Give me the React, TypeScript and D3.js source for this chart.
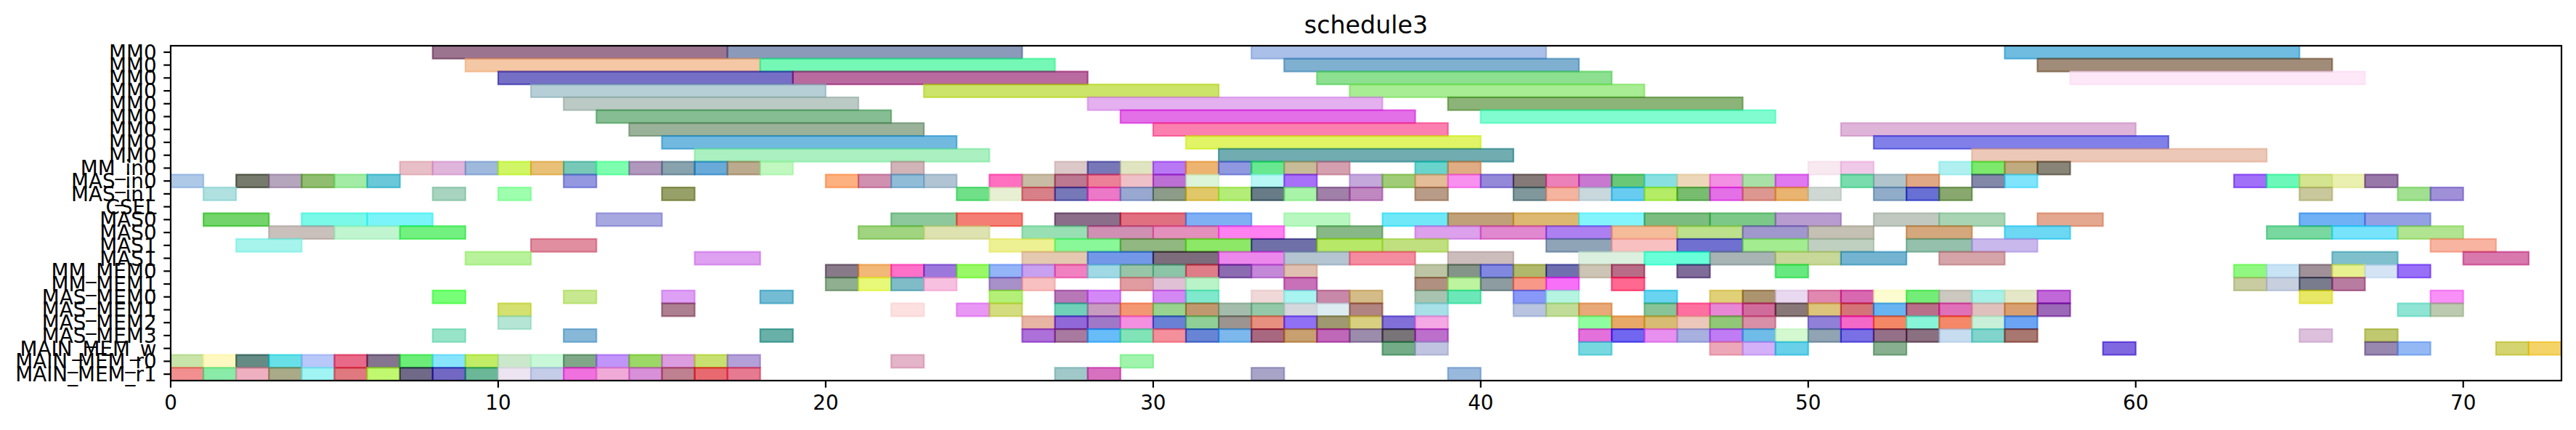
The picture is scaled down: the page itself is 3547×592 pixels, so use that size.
import * as d3 from "d3";

type Task = [number, number, string];

const titleText = "schedule3";
const xTicks = [0, 10, 20, 30, 40, 50, 60, 70];
const xMax = 73;

const rowLabels = [
  "MM0", "MM0", "MM0", "MM0", "MM0", "MM0", "MM0", "MM0", "MM0",
  "MM_in0", "MAS_in0", "MAS_in1", "CSEL", "MAS0", "MAS0", "MAS1", "MAS1",
  "MM_MEM0", "MM_MEM1", "MAS_MEM0", "MAS_MEM1", "MAS_MEM2", "MAS_MEM3",
  "MAIN_MEM_w", "MAIN_MEM_r0", "MAIN_MEM_r1",
];

// nine MM0 lanes, top to bottom
const mm0Tasks: Task[][] = [
  [[8, 17, "#9b7590"], [17, 26, "#8c9aba"], [33, 42, "#aac0e8"], [56, 65, "#70bce0"]],
  [[9, 18, "#f5c8a5"], [18, 27, "#75f8b5"], [34, 43, "#80b0d0"], [57, 66, "#a08c78"]],
  [[10, 19, "#7570c5"], [19, 28, "#b96ba0"], [35, 44, "#8ce090"], [58, 67, "#fde8f8"]],
  [[11, 20, "#b6ced5"], [23, 32, "#cde46a"], [36, 45, "#a8ec94"]],
  [[12, 21, "#bccac6"], [28, 37, "#e4b0f0"], [39, 48, "#8cb478"]],
  [[13, 22, "#86bd92"], [29, 38, "#e470e8"], [40, 49, "#80fcd0"]],
  [[14, 23, "#9ab29a"], [30, 39, "#fb80b0"], [51, 60, "#deb4d8"]],
  [[15, 24, "#72b9e0"], [31, 40, "#e0f466"], [52, 61, "#8080e8"]],
  [[16, 25, "#aaf0c0"], [32, 41, "#70acb0"], [55, 64, "#ecc8b8"]],
];

const mmIn0: Task[] = [
  [7, 8, "#e8bfc6"], [8, 9, "#e0b5dc"], [9, 10, "#9fb9dc"], [10, 11, "#d0f660"], [11, 12, "#e8c078"],
  [12, 13, "#78c8b8"], [13, 14, "#7effb0"], [14, 15, "#b098bc"], [15, 16, "#88a2ae"], [16, 17, "#6aaad8"],
  [17, 18, "#bbaa8e"], [18, 19, "#c0f8c0"], [22, 23, "#d0b4b8"], [27, 28, "#dcc8c8"], [28, 29, "#7878b8"],
  [29, 30, "#e0e4c0"], [30, 31, "#b878f4"], [31, 32, "#ecb470"], [32, 33, "#9098e0"], [33, 34, "#68e890"],
  [34, 35, "#c8bc98"], [35, 36, "#d4a0b0"], [38, 39, "#6ad4cc"], [39, 40, "#e0ac84"], [50, 51, "#f8e8f0"],
  [51, 52, "#f0c8e8"], [54, 55, "#b0f0f0"], [55, 56, "#7ce86c"], [56, 57, "#c0aa80"], [57, 58, "#888478"],
];

const masIn0: Task[] = [
  [0, 1, "#aec8e8"], [2, 3, "#757a6c"], [3, 4, "#b5a5bd"], [4, 5, "#90bd70"], [5, 6, "#a3eca5"],
  [6, 7, "#6ac8d8"], [12, 13, "#9398e0"], [20, 21, "#fdb080"], [21, 22, "#d090b0"], [22, 23, "#90bcd8"],
  [23, 24, "#b0c4d4"], [25, 26, "#ff70c0"], [26, 27, "#c8bca4"], [27, 28, "#bc7890"], [28, 29, "#ec8098"],
  [29, 30, "#f0c0c8"], [30, 31, "#bc70d4"], [31, 32, "#dcf4d8"], [33, 34, "#b8f8f4"], [34, 35, "#a870f8"],
  [36, 37, "#c4a8dc"], [37, 38, "#a0cc78"], [38, 39, "#e4bc98"], [39, 40, "#f890f0"], [40, 41, "#9488d8"],
  [41, 42, "#857a78"], [42, 43, "#ec80b8"], [43, 44, "#c878d0"], [44, 45, "#68c878"], [45, 46, "#88e0e0"],
  [46, 47, "#ecd8b8"], [47, 48, "#f490e4"], [48, 49, "#a8e0a8"], [49, 50, "#e078f0"], [51, 52, "#78dcac"],
  [52, 53, "#b0c4cc"], [53, 54, "#e0a884"], [55, 56, "#8488a8"], [56, 57, "#80e4fc"], [63, 64, "#a070f8"],
  [64, 65, "#6cf8b8"], [65, 66, "#d4e490"], [66, 67, "#eaf0b0"], [67, 68, "#9878a8"],
];

const masIn1: Task[] = [
  [1, 2, "#b0e0e0"], [8, 9, "#a8d3bf"], [10, 11, "#9effae"], [15, 16, "#98a06a"], [24, 25, "#70e088"],
  [25, 26, "#e8f0d4"], [26, 27, "#d88088"], [27, 28, "#7678b8"], [28, 29, "#ec78c8"], [29, 30, "#98a8d0"],
  [30, 31, "#8c9c88"], [31, 32, "#e0c868"], [32, 33, "#b4ec78"], [33, 34, "#687c88"], [34, 35, "#a8f4a8"],
  [35, 36, "#a080a8"], [36, 37, "#c088c0"], [38, 39, "#b89c88"], [41, 42, "#80989c"], [42, 43, "#f4b4a0"],
  [43, 44, "#c8d8dc"], [44, 45, "#68ccf0"], [45, 46, "#b4ec60"], [46, 47, "#78bc70"], [47, 48, "#e470e8"],
  [48, 49, "#dc9890"], [49, 50, "#e8b470"], [50, 51, "#d0d8d4"], [52, 53, "#90acc8"], [53, 54, "#6870d4"],
  [54, 55, "#88a870"], [65, 66, "#c8c89c"], [68, 69, "#a0e090"], [69, 70, "#a090d8"],
];

const csel: Task[] = [];

const mas0a: Task[] = [
  [1, 3, "#72d46a"], [4, 6, "#7af8e8"], [6, 8, "#7af4f8"], [13, 15, "#a8a8e0"], [22, 24, "#8cc89c"],
  [24, 26, "#f47e74"], [27, 29, "#8a6e8a"], [29, 31, "#e07080"], [31, 33, "#80b0f4"], [34, 36, "#b8f8c0"],
  [37, 39, "#70e8f8"], [39, 41, "#c0a078"], [41, 43, "#dcb870"], [43, 45, "#84f4fc"], [45, 47, "#7cbc80"],
  [47, 49, "#7cc888"], [49, 51, "#b89cd0"], [52, 54, "#c0c8c0"], [54, 56, "#a8d4b4"], [57, 59, "#e4a890"],
  [65, 67, "#70b0f4"], [67, 69, "#94a0e4"],
];

const mas0b: Task[] = [
  [3, 5, "#c9c0bc"], [5, 7, "#c0f5d0"], [7, 9, "#72f080"], [21, 23, "#a0d480"], [23, 25, "#dde2b0"],
  [26, 28, "#98e0b4"], [28, 30, "#d090b4"], [30, 32, "#e490bc"], [32, 34, "#ff80f0"], [35, 37, "#88b888"],
  [38, 40, "#dca0ec"], [40, 42, "#e088d0"], [42, 44, "#ac80f0"], [44, 46, "#f4bc98"], [46, 48, "#bce08c"],
  [48, 50, "#a098cc"], [50, 52, "#c4c0b4"], [53, 55, "#d4a87c"], [56, 58, "#6cd8f4"], [64, 66, "#78d8a0"],
  [66, 68, "#78e4fc"], [68, 70, "#b0e490"],
];

const mas1a: Task[] = [
  [2, 4, "#a6f4ec"], [11, 13, "#e08ea0"], [25, 27, "#eef094"], [27, 29, "#88f898"], [29, 31, "#90b880"],
  [31, 33, "#8ce860"], [33, 35, "#7070a8"], [35, 37, "#b8e868"], [37, 39, "#c0e080"], [42, 44, "#90a4b8"],
  [44, 46, "#f8c0c0"], [46, 48, "#7070d0"], [48, 50, "#a4ec90"], [50, 52, "#c0d0c0"], [53, 55, "#94c0ac"],
  [55, 57, "#c8b8ec"], [69, 71, "#f8b4a0"],
];

const mas1b: Task[] = [
  [9, 11, "#b8f29a"], [16, 18, "#dea0f0"], [26, 28, "#e4c8b0"], [28, 30, "#7498e8"], [30, 32, "#7c6c7c"],
  [32, 34, "#ec88ec"], [34, 36, "#b4c4d0"], [36, 38, "#f48ca0"], [39, 41, "#ccbcbc"], [43, 45, "#dcf0e0"],
  [45, 47, "#68ffd8"], [47, 49, "#a8b4b4"], [49, 51, "#c8d898"], [51, 53, "#74b4d0"], [54, 56, "#d4a4a8"],
  [66, 68, "#80c0cc"], [70, 72, "#d878ac"],
];

const mmMem0: Task[] = [
  [20, 21, "#887a88"], [21, 22, "#f2b878"], [22, 23, "#ff70c8"], [23, 24, "#9c78dc"], [24, 25, "#98f860"],
  [25, 26, "#94b4f8"], [26, 27, "#c8a0f0"], [27, 28, "#f080c0"], [28, 29, "#a0d8e4"], [29, 30, "#98c4a8"],
  [30, 31, "#8cc4a8"], [31, 32, "#de7c88"], [32, 33, "#8c6cb0"], [33, 34, "#c488d8"], [34, 35, "#e0c0b0"],
  [38, 39, "#bcc4a4"], [39, 40, "#849488"], [40, 41, "#8088e0"], [41, 42, "#b0b86c"], [42, 43, "#7070b0"],
  [43, 44, "#ccc4b4"], [44, 45, "#b86c88"], [46, 47, "#806c98"], [49, 50, "#68e880"], [63, 64, "#90f880"],
  [64, 65, "#c8e4f4"], [65, 66, "#a09098"], [66, 67, "#e8f090"], [67, 68, "#d4e4f4"], [68, 69, "#9870f8"],
];

const mmMem1: Task[] = [
  [20, 21, "#90ae90"], [21, 22, "#e8f878"], [22, 23, "#80bcc8"], [23, 24, "#f8c0e0"], [25, 26, "#a890c8"],
  [26, 27, "#f8c0c0"], [29, 30, "#e09ca0"], [30, 31, "#e0c0d4"], [31, 32, "#b8f4c8"], [34, 35, "#c870b8"],
  [38, 39, "#b09080"], [39, 40, "#bcf4a0"], [40, 41, "#8c9ca0"], [41, 42, "#f89888"], [42, 43, "#f870f8"],
  [44, 45, "#ff6890"], [63, 64, "#c8cca0"], [64, 65, "#c8d0e0"], [65, 66, "#787c8c"], [66, 67, "#b87ca0"],
];

const masMem0: Task[] = [
  [8, 9, "#78ff78"], [12, 13, "#c8e890"], [15, 16, "#dea0f4"], [18, 19, "#74bcd4"], [25, 26, "#b4f078"],
  [27, 28, "#b878b8"], [28, 29, "#d488f8"], [30, 31, "#d488f4"], [31, 32, "#80e8cc"], [33, 34, "#f0d8d8"],
  [34, 35, "#a8f4f0"], [35, 36, "#c888a8"], [36, 37, "#d4bc88"], [38, 39, "#a8c4b0"], [39, 40, "#6ce8b8"],
  [41, 42, "#8898f8"], [42, 43, "#b4f4e0"], [45, 46, "#68d4f0"], [47, 48, "#e0d078"], [48, 49, "#ac9470"],
  [49, 50, "#e8d8f0"], [50, 51, "#e088b0"], [51, 52, "#d868b0"], [52, 53, "#fcfcd0"], [53, 54, "#74ec78"],
  [54, 55, "#ccc8c0"], [55, 56, "#a8f0e8"], [56, 57, "#e4e8c8"], [57, 58, "#c068d8"], [65, 66, "#e8e860"],
  [69, 70, "#f890f8"],
];

const masMem1: Task[] = [
  [10, 11, "#d4e070"], [15, 16, "#ac8090"], [22, 23, "#fde0e0"], [24, 25, "#e898f4"], [25, 26, "#d4dc80"],
  [27, 28, "#70d0b8"], [28, 29, "#c89cc0"], [29, 30, "#f49874"], [30, 31, "#98d490"], [31, 32, "#c09870"],
  [32, 33, "#a4bcac"], [33, 34, "#94c8a8"], [34, 35, "#d4d8dc"], [35, 36, "#dcecf0"], [36, 37, "#b08480"],
  [38, 39, "#a8e0e8"], [41, 42, "#b8c4e0"], [42, 43, "#c0dc98"], [43, 44, "#e8a878"], [45, 46, "#88c498"],
  [46, 47, "#ff70a0"], [47, 48, "#e888d4"], [48, 49, "#d06c9c"], [49, 50, "#887878"], [50, 51, "#dcc47c"],
  [51, 52, "#d47478"], [52, 53, "#68b4f0"], [53, 54, "#b87088"], [54, 55, "#e070b8"], [55, 56, "#e0c0bc"],
  [56, 57, "#d8a070"], [57, 58, "#9c68b8"], [68, 69, "#90e4d4"], [69, 70, "#bccab0"],
];

const masMem2: Task[] = [
  [10, 11, "#b5e5d5"], [26, 27, "#e8b4a4"], [27, 28, "#9068d8"], [28, 29, "#a078c8"], [29, 30, "#f490e0"],
  [30, 31, "#6a80d4"], [31, 32, "#90d098"], [32, 33, "#9c9490"], [33, 34, "#e89080"], [34, 35, "#9070f4"],
  [35, 36, "#a09870"], [36, 37, "#d8d080"], [37, 38, "#8070d8"], [38, 39, "#f4a8e4"], [43, 44, "#90fca0"],
  [44, 45, "#e8a868"], [45, 46, "#d8bc74"], [46, 47, "#ecc8bc"], [47, 48, "#90c878"], [48, 49, "#d890a8"],
  [50, 51, "#9080d8"], [51, 52, "#f468c8"], [52, 53, "#f48864"], [53, 54, "#88f4d8"], [54, 55, "#f48868"],
  [55, 56, "#c8f0d8"], [56, 57, "#6ca4f4"],
];

const masMem3: Task[] = [
  [8, 9, "#98e4c8"], [12, 13, "#88b8d8"], [18, 19, "#68b0a8"], [26, 27, "#ac70d8"], [27, 28, "#a87aa0"],
  [28, 29, "#68bcf8"], [29, 30, "#80e4b8"], [30, 31, "#f4909c"], [31, 32, "#6884d4"], [32, 33, "#7cb8ec"],
  [33, 34, "#a86880"], [34, 35, "#c8a070"], [35, 36, "#c068b8"], [36, 37, "#9c8cac"], [37, 38, "#787478"],
  [38, 39, "#bc70cc"], [43, 44, "#e470dc"], [44, 45, "#7060f0"], [45, 46, "#e890f0"], [46, 47, "#a8b0e0"],
  [47, 48, "#c07cf4"], [48, 49, "#70bce8"], [49, 50, "#d4f8d0"], [50, 51, "#90a4b4"], [51, 52, "#7870e4"],
  [52, 53, "#947088"], [53, 54, "#8a7080"], [54, 55, "#c8dcf0"], [55, 56, "#80d4cc"], [56, 57, "#a87870"],
  [65, 66, "#dcc0dc"], [67, 68, "#c0c870"],
];

const mainMemW: Task[] = [
  [37, 38, "#74ac88"], [38, 39, "#c0c4e0"], [43, 44, "#78d8e0"], [47, 48, "#eca8b8"], [48, 49, "#d4b0f8"],
  [49, 50, "#68d0e8"], [52, 53, "#88b090"], [59, 60, "#8068e0"], [67, 68, "#9888b0"], [68, 69, "#94b8f4"],
  [71, 72, "#d4d470"], [72, 73, "#f4d468"],
];

const mainMemR0: Task[] = [
  [0, 1, "#c8e4a8"], [1, 2, "#fff8c0"], [2, 3, "#658a84"], [3, 4, "#68e0e8"], [4, 5, "#b8c8f8"],
  [5, 6, "#e86a88"], [6, 7, "#85758f"], [7, 8, "#6ced78"], [8, 9, "#88e4fc"], [9, 10, "#c0ec60"],
  [10, 11, "#cce8cc"], [11, 12, "#c8f8d8"], [12, 13, "#80a888"], [13, 14, "#c094f8"], [14, 15, "#9cd864"],
  [15, 16, "#dc9ce0"], [16, 17, "#c8e070"], [17, 18, "#b4a0d8"], [22, 23, "#e4b4c8"], [29, 30, "#a0f4ac"],
];

const mainMemR1: Task[] = [
  [0, 1, "#f29090"], [1, 2, "#8aeaa8"], [2, 3, "#eeb0c0"], [3, 4, "#aaaa88"], [4, 5, "#a0f4f4"],
  [5, 6, "#e07880"], [6, 7, "#c0f870"], [7, 8, "#706a88"], [8, 9, "#7268c4"], [9, 10, "#6ab898"],
  [10, 11, "#ece4f0"], [11, 12, "#c4cce8"], [12, 13, "#f070e0"], [13, 14, "#f0aad8"], [14, 15, "#d890d8"],
  [15, 16, "#bf808f"], [16, 17, "#e86a70"], [17, 18, "#e67a90"], [27, 28, "#a0c8c8"], [28, 29, "#d870c0"],
  [33, 34, "#a8a4c8"], [39, 40, "#98b8dc"],
];

const lanes: Task[][] = [
  ...mm0Tasks, mmIn0, masIn0, masIn1, csel, mas0a, mas0b, mas1a, mas1b,
  mmMem0, mmMem1, masMem0, masMem1, masMem2, masMem3, mainMemW, mainMemR0, mainMemR1,
];

// bars were drawn with alpha 0.6 on white; recover the base colour from what is seen
const ALPHA = 0.6;
function baseColor(seen: string) {
  const c = d3.rgb(seen);
  const f = (v: number) => Math.max(0, Math.min(255, (v - 255 * (1 - ALPHA)) / ALPHA));
  return d3.rgb(f(c.r), f(c.g), f(c.b)).formatHex();
}

export default function App() {
  const width = 3547;
  const height = 592;
  const pad = { l: 235, r: 20, t: 63, b: 68 };
  const fs = 27.8;

  const x = d3.scaleLinear().domain([0, xMax]).range([pad.l, width - pad.r]);
  const y = d3.scaleLinear().domain([-0.5, rowLabels.length - 0.5]).range([pad.t, height - pad.b]);
  const tick = 9.7;

  return (
    <svg
      width={width}
      height={height}
      viewBox={`0 0 ${width} ${height}`}
      style={{ position: "absolute", left: 0, top: 0, background: "#fff" }}
      fontFamily="DejaVu Sans, sans-serif"
    >
      <defs>
        <clipPath id="plot">
          <rect x={x(0)} y={y(-0.5)} width={x(xMax) - x(0)} height={y(rowLabels.length - 0.5) - y(-0.5)} />
        </clipPath>
      </defs>
      <g clipPath="url(#plot)">
        {lanes.map((lane, i) =>
          lane.map(([s, e, seen], j) => {
            const c = baseColor(seen);
            return (
              <rect
                key={`${i}-${j}`}
                x={x(s)}
                y={y(i - 0.5)}
                width={x(e) - x(s)}
                height={y(i + 0.5) - y(i - 0.5)}
                fill={c}
                fillOpacity={ALPHA}
                stroke={c}
                strokeOpacity={ALPHA}
                strokeWidth={2.2}
              />
            );
          })
        )}
      </g>
      <rect
        x={x(0)}
        y={y(-0.5)}
        width={x(xMax) - x(0)}
        height={y(rowLabels.length - 0.5) - y(-0.5)}
        fill="none"
        stroke="#000"
        strokeWidth={2.2}
      />
      {xTicks.map((t) => (
        <g key={t}>
          <line x1={x(t)} x2={x(t)} y1={height - pad.b} y2={height - pad.b + tick} stroke="#000" strokeWidth={2.2} />
          <text x={x(t)} y={height - pad.b + tick * 2 + 20.5} textAnchor="middle" fontSize={fs}>
            {t}
          </text>
        </g>
      ))}
      {rowLabels.map((lab, i) => (
        <g key={i}>
          <line x1={pad.l - tick} x2={pad.l} y1={y(i)} y2={y(i)} stroke="#000" strokeWidth={2.2} />
          <text x={pad.l - tick * 2} y={y(i) + 10} textAnchor="end" fontSize={fs}>
            {lab}
          </text>
        </g>
      ))}
      <text x={(x(0) + x(xMax)) / 2} y={pad.t - 16.7} textAnchor="middle" fontSize={33.3}>
        {titleText}
      </text>
    </svg>
  );
}
